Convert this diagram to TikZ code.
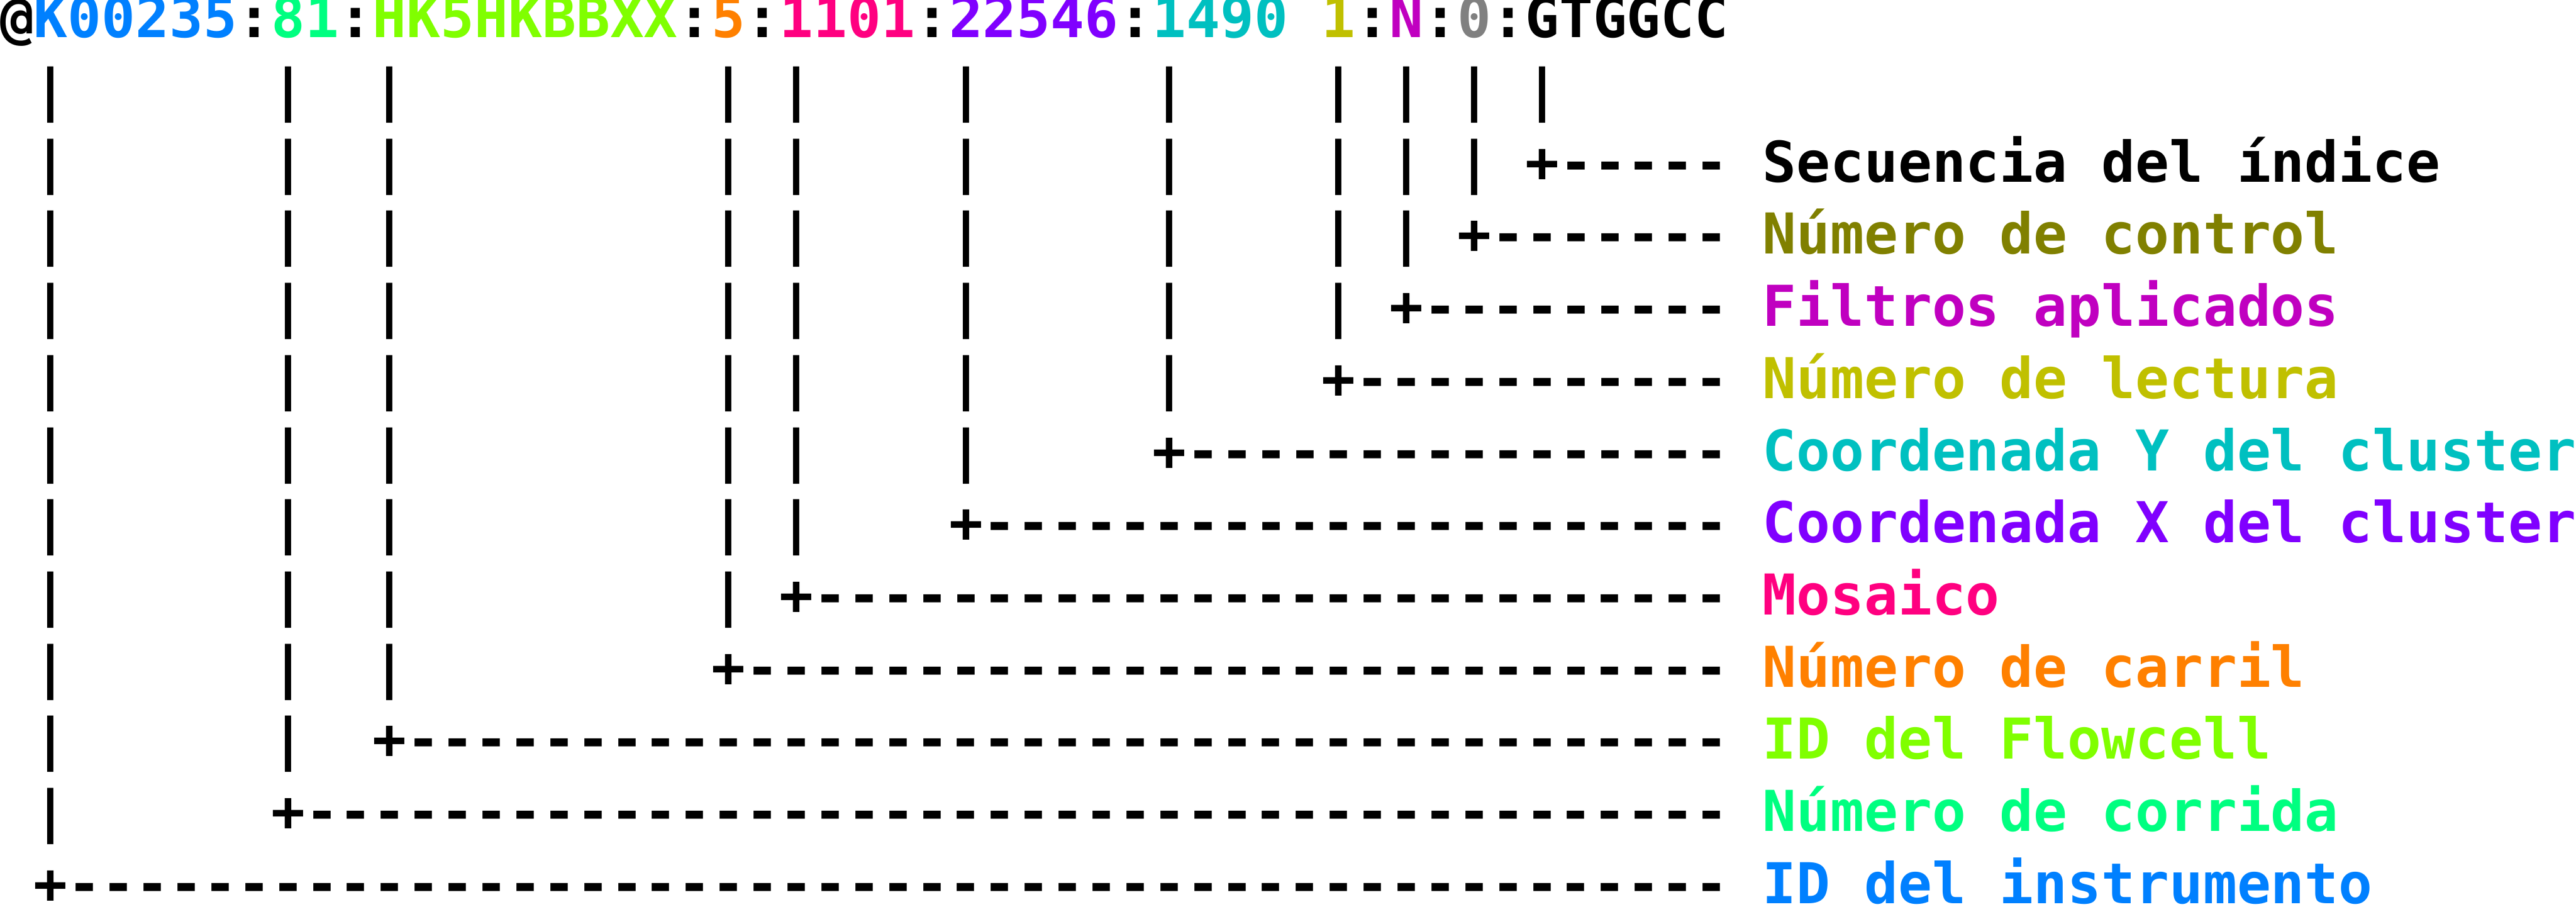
\documentclass[tikz,border=0pt]{standalone}
\usepackage{fontspec}
\setmonofont{DejaVu Sans Mono}

\definecolor{instblue}{HTML}{0080FF}
\definecolor{rungreen}{HTML}{00FF80}
\definecolor{cellgreen}{HTML}{80FF00}
\definecolor{laneorange}{HTML}{FF8000}
\definecolor{tilepink}{HTML}{FF0080}
\definecolor{xviolet}{HTML}{8000FF}
\definecolor{yteal}{HTML}{00C0C0}
\definecolor{readyellow}{HTML}{C0C000}
\definecolor{filtmagenta}{HTML}{C000C0}
\definecolor{ctrlolive}{HTML}{808000}
\definecolor{zerogray}{HTML}{808080}

\tikzset{
  txt/.style={anchor=base west, inner sep=0pt, outer sep=0pt,
    font=\ttfamily\bfseries\fontsize{12}{12}\selectfont},
}

\begin{document}
\begin{tikzpicture}[x=7.2246pt, y=15.38pt]
  \useasboundingbox (0, 0.520) rectangle (76, -12.04);

  \node[txt] (head) at (0, 0) {@\textcolor{instblue}{K00235}:\textcolor{rungreen}{81}:\textcolor{cellgreen}{HK5HKBBXX}:\textcolor{laneorange}{5}:\textcolor{tilepink}{1101}:\textcolor{xviolet}{22546}:\textcolor{yteal}{1490} \textcolor{readyellow}{1}:\textcolor{filtmagenta}{N}:\textcolor{zerogray}{0}:GTGGCC};

  % vertical bars under each field
  \foreach \c [count=\k] in {1, 8, 11, 21, 23, 28, 34, 39, 41, 43, 45} {
    \pgfmathtruncatemacro\last{12-\k}
    \foreach \r in {1,...,\last} {
      \node[txt] (bar-\k-\r) at (\c, -\r) {|};
    }
  }

  % ticks and labels
  \foreach \r/\c/\clr/\lab in {
      2/45/black/Secuencia del índice,
      3/43/ctrlolive/Número de control,
      4/41/filtmagenta/Filtros aplicados,
      5/39/readyellow/Número de lectura,
      6/34/yteal/Coordenada Y del cluster,
      7/28/xviolet/Coordenada X del cluster,
      8/23/tilepink/Mosaico,
      9/21/laneorange/Número de carril,
      10/11/cellgreen/ID del Flowcell,
      11/8/rungreen/Número de corrida,
      12/1/instblue/ID del instrumento
    } {
      \pgfmathtruncatemacro\n{50-\c}
      \node[txt] (tick-\r) at (\c, -\r) {+\foreach \i in {1,...,\n}{-}};
      \node[txt, text=\clr] (lab-\r) at (52, -\r) {\lab};
    }
\end{tikzpicture}
\end{document}
